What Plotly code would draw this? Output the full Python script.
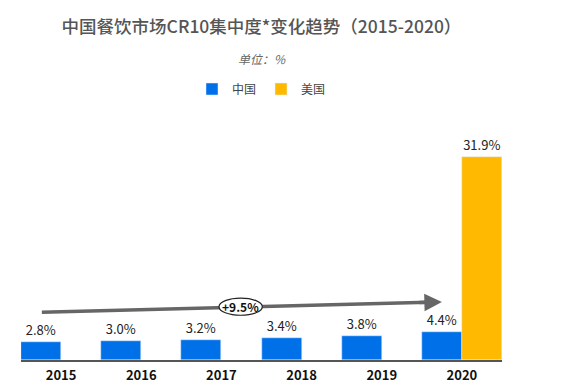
import plotly.graph_objects as go

years = ["2015", "2016", "2017", "2018", "2019", "2020"]
china = [2.8, 3.0, 3.2, 3.4, 3.8, 4.4]
usa = [None, None, None, None, None, 31.9]
china_labels = ["2.8%", "3.0%", "3.2%", "3.4%", "3.8%", "4.4%"]
usa_labels = ["", "", "", "", "", "31.9%"]
growth_label = "+9.5%"

FONT = "Noto Sans CJK SC"
BLUE = "#0070E8"
ORANGE = "#FFB900"

W, H = 553, 383  # page body has an 8px margin
PT, PB = 129, 352  # plot top / bottom in figure px
PH = PB - PT

fig = go.Figure()
fig.add_trace(go.Bar(
    x=years, y=china, name="中国", marker_color=BLUE,
    text=china_labels, textposition="outside", cliponaxis=False,
    textfont=dict(size=13, color="#222", family=FONT),
))
fig.add_trace(go.Bar(
    x=years, y=usa, name="美国", marker_color=ORANGE,
    text=usa_labels, textposition="outside", cliponaxis=False,
    textfont=dict(size=13, color="#222", family=FONT),
))

# trend arrow: shaft as a shape, head as a short annotation arrow
x_start, y_start, x_end, y_end = -0.24, 7.5, 4.75, 9.1
fig.add_shape(
    type="line", xref="x", yref="y", x0=x_start, y0=y_start, x1=x_end - 0.05, y1=y_end - 0.016,
    line=dict(color="#666666", width=3.5), layer="above",
)
fig.add_annotation(
    x=x_end, y=y_end, ax=x_end - 0.3, ay=y_end - 0.096, xref="x", yref="y", axref="x", ayref="y",
    showarrow=True, arrowhead=2, arrowsize=1.0, arrowwidth=3.5, arrowcolor="#666666",
    text="",
)
# ellipse label on top of the shaft
fig.add_shape(
    type="circle", xref="x", yref="y",
    x0=2.24 - 0.27, x1=2.24 + 0.27, y0=8.37 - 1.35, y1=8.37 + 1.35,
    fillcolor="white", line=dict(color="#222", width=1.2), layer="above",
)
fig.add_annotation(
    x=2.24, y=8.37, xref="x", yref="y", text="<b>" + growth_label + "</b>",
    showarrow=False, font=dict(size=12, color="#111", family=FONT),
)

fig.update_layout(
    width=W, height=H,
    margin=dict(l=13, r=59, t=PT, b=H - PB),
    paper_bgcolor="white", plot_bgcolor="white",
    barmode="group", bargap=0, bargroupgap=0,
    title=dict(
        text="中国餐饮市场CR10集中度*变化趋势（2015-2020）",
        x=0.5, xanchor="center", xref="paper", y=1 - 19 / H, yanchor="middle",
        font=dict(size=17.5, color="#555555", family=FONT, weight=500),
    ),
    legend=dict(
        orientation="h", x=0.5, xanchor="center", y=(PB - 81) / PH, yanchor="middle",
        font=dict(size=12, color="#444", family=FONT), itemwidth=30,
        bgcolor="rgba(0,0,0,0)",
    ),
    showlegend=True,
    font=dict(family=FONT),
)
fig.add_annotation(
    x=0.5, y=(PB - 50) / PH, xref="paper", yref="paper", xanchor="center", yanchor="middle",
    text="<i>单位：%</i>", showarrow=False,
    font=dict(size=12, color="#666", family=FONT),
)

fig.update_xaxes(
    type="category", range=[-0.5, 5.5], showline=True, linecolor="#555", linewidth=1.5,
    showgrid=False, ticks="", tickfont=dict(size=13, color="#111", family=FONT),
    tickprefix="<b>", ticksuffix="</b>", fixedrange=True, ticklabelstandoff=3,
    automargin=False,
)
fig.update_yaxes(range=[0, 35], visible=False, showgrid=False, zeroline=False, automargin=False)

fig.write_html("out.html")
